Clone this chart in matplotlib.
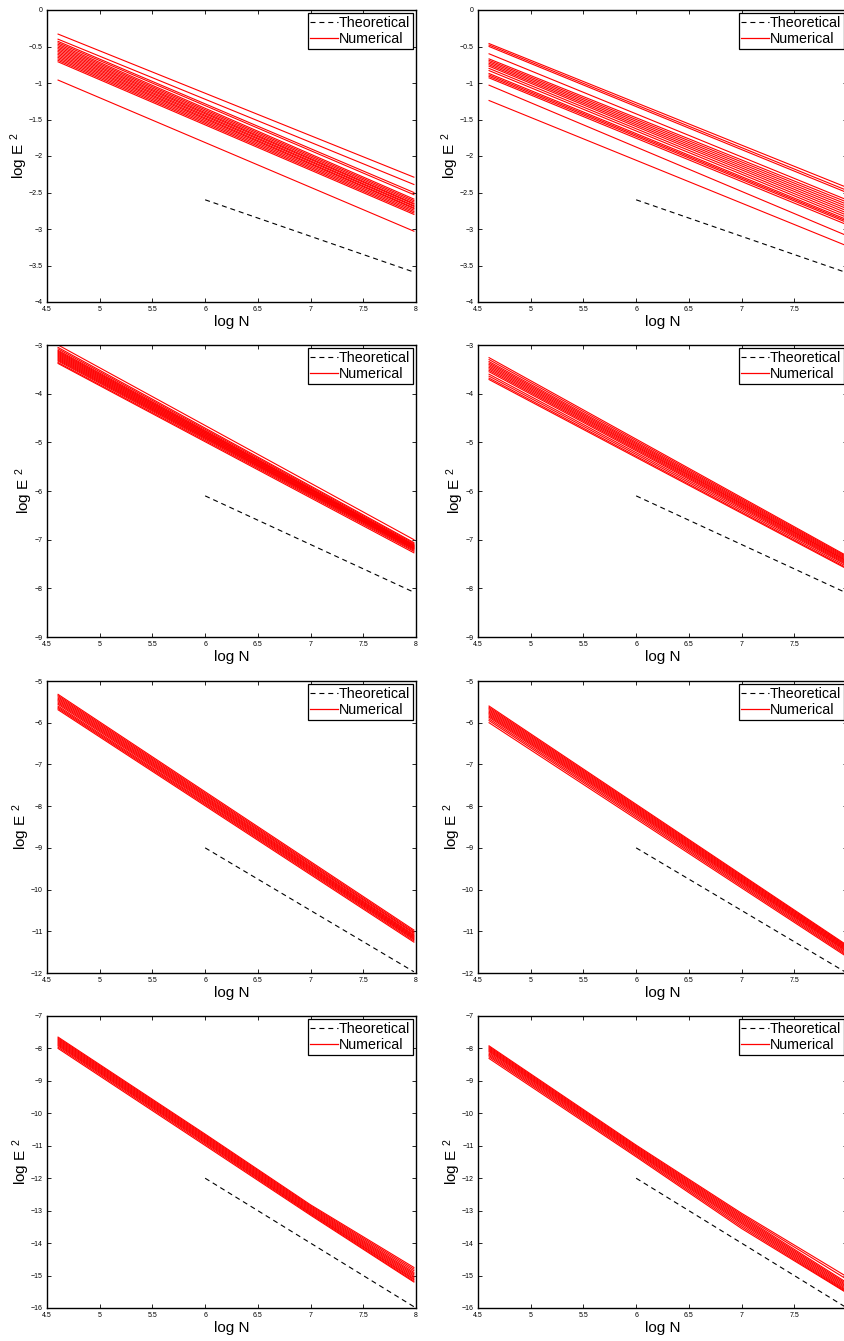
import matplotlib
matplotlib.use('Agg')
import matplotlib.pyplot as plt
from matplotlib.lines import Line2D
from matplotlib.ticker import FuncFormatter

plt.rcParams['font.family'] = ['Liberation Sans', 'DejaVu Sans']
plt.rcParams['mathtext.fontset'] = 'custom'
plt.rcParams['mathtext.rm'] = 'Liberation Sans'
plt.rcParams['mathtext.default'] = 'regular'

# x positions (log N) where the numerical curves were sampled
x_two = [4.605, 7.98]
x_four = [4.605, 6.0, 7.0, 7.98]
theo_x = [6.0, 7.98]

# row 1
p1_start = [-0.33, -0.40, -0.43, -0.45, -0.47, -0.49, -0.51, -0.53, -0.55,
            -0.57, -0.59, -0.61, -0.63, -0.65, -0.67, -0.69, -0.71, -0.96]
p1_end = [-2.29, -2.39, -2.50, -2.53, -2.59, -2.61, -2.63, -2.65, -2.66,
          -2.68, -2.69, -2.71, -2.72, -2.74, -2.76, -2.78, -2.80, -3.03]
p2_start = [-0.46, -0.48, -0.50, -0.60, -0.67, -0.69, -0.71, -0.73, -0.75,
            -0.77, -0.80, -0.83, -0.87, -0.89, -0.91, -0.93, -1.03, -1.24]
p2_end = [-2.42, -2.46, -2.49, -2.59, -2.62, -2.65, -2.68, -2.71, -2.74,
          -2.77, -2.80, -2.83, -2.86, -2.88, -2.90, -2.93, -3.08, -3.22]
theo_1 = [-2.6, -3.59]

# row 2
p3_start = [-3.00, -3.05, -3.08, -3.11, -3.13, -3.15, -3.17, -3.19, -3.21,
            -3.23, -3.25, -3.27, -3.29, -3.31, -3.33, -3.36, -3.38]
p3_end = [-7.00, -7.06, -7.08, -7.10, -7.11, -7.12, -7.13, -7.14, -7.15,
          -7.16, -7.17, -7.18, -7.19, -7.20, -7.22, -7.24, -7.27]
p4_start = [-3.26, -3.30, -3.34, -3.37, -3.40, -3.43, -3.46, -3.49, -3.52,
            -3.55, -3.60, -3.64, -3.68, -3.71]
p4_end = [-7.31, -7.33, -7.35, -7.37, -7.39, -7.41, -7.42, -7.44, -7.46,
          -7.48, -7.50, -7.53, -7.56, -7.58]
theo_2 = [-6.1, -8.08]

# row 3
p5_start = [-5.32, -5.35, -5.38, -5.41, -5.44, -5.47, -5.50, -5.53, -5.56,
            -5.60, -5.63, -5.66, -5.69]
p5_end = [-10.97, -11.00, -11.03, -11.05, -11.08, -11.10, -11.12, -11.14,
          -11.16, -11.18, -11.20, -11.23, -11.26]
p6_start = [-5.60, -5.63, -5.66, -5.69, -5.72, -5.75, -5.78, -5.81, -5.84,
            -5.87, -5.91, -5.95, -6.00]
p6_end = [-11.30, -11.32, -11.34, -11.36, -11.38, -11.40, -11.42, -11.44,
          -11.46, -11.49, -11.52, -11.55, -11.58]
theo_3 = [-9.0, -11.97]

# row 4 (slightly bent, read at four x positions)
p7_lines = [
    [-7.65, -10.64, -12.82, -14.75],
    [-7.68, -10.67, -12.85, -14.80],
    [-7.71, -10.70, -12.88, -14.85],
    [-7.74, -10.73, -12.91, -14.90],
    [-7.77, -10.76, -12.94, -14.94],
    [-7.80, -10.79, -12.97, -14.98],
    [-7.83, -10.82, -13.00, -15.02],
    [-7.86, -10.85, -13.03, -15.06],
    [-7.89, -10.88, -13.06, -15.10],
    [-7.92, -10.91, -13.08, -15.13],
    [-7.96, -10.95, -13.11, -15.17],
    [-8.00, -10.99, -13.14, -15.20],
]
p8_lines = [
    [-7.92, -10.98, -13.08, -15.00],
    [-7.95, -11.01, -13.12, -15.08],
    [-7.98, -11.04, -13.16, -15.18],
    [-8.01, -11.07, -13.20, -15.22],
    [-8.04, -11.10, -13.24, -15.26],
    [-8.07, -11.13, -13.28, -15.30],
    [-8.10, -11.16, -13.32, -15.34],
    [-8.14, -11.19, -13.36, -15.38],
    [-8.18, -11.22, -13.40, -15.42],
    [-8.22, -11.26, -13.45, -15.45],
    [-8.26, -11.30, -13.50, -15.48],
    [-8.31, -11.34, -13.55, -15.50],
]
theo_4 = [-12.0, -15.96]

x_ticks = [4.5, 5, 5.5, 6, 6.5, 7, 7.5, 8]
row_yticks = [
    [-4, -3.5, -3, -2.5, -2, -1.5, -1, -0.5, 0],
    [-9, -8, -7, -6, -5, -4, -3],
    [-12, -11, -10, -9, -8, -7, -6, -5],
    [-16, -15, -14, -13, -12, -11, -10, -9, -8, -7],
]

panels = [
    (x_two, [list(p) for p in zip(p1_start, p1_end)], theo_1),
    (x_two, [list(p) for p in zip(p2_start, p2_end)], theo_1),
    (x_two, [list(p) for p in zip(p3_start, p3_end)], theo_2),
    (x_two, [list(p) for p in zip(p4_start, p4_end)], theo_2),
    (x_two, [list(p) for p in zip(p5_start, p5_end)], theo_3),
    (x_two, [list(p) for p in zip(p6_start, p6_end)], theo_3),
    (x_four, p7_lines, theo_4),
    (x_four, p8_lines, theo_4),
]

W, H = 845, 1341
fig = plt.figure(figsize=(W / 100, H / 100), dpi=100)

row_tops = [10, 345, 681, 1016]
col_lefts = [47, 478]
ax_w, ax_h = 369, 292


def fmt(v, pos):
    return ('%g' % v).replace('-', '\u2212')


for i, (xs, lines, theo) in enumerate(panels):
    row, col = divmod(i, 2)
    ax = fig.add_axes([col_lefts[col] / W, 1 - (row_tops[row] + ax_h) / H,
                       ax_w / W, ax_h / H])
    ax.plot(theo_x, theo, color='black', lw=0.8, linestyle=(0, (4.5, 3.5)))
    for ys in lines:
        ax.plot(xs, ys, color='red', lw=0.8)

    yt = row_yticks[row]
    ax.set_xlim(4.5, 8)
    ax.set_ylim(yt[0], yt[-1])
    ax.set_xticks(x_ticks)
    ax.set_yticks(yt)
    ax.xaxis.set_major_formatter(FuncFormatter(fmt))
    ax.yaxis.set_major_formatter(FuncFormatter(fmt))
    ax.tick_params(direction='in', top=True, right=True, length=3, width=0.6,
                   labelsize=5, pad=3)
    for sp in ax.spines.values():
        sp.set_linewidth(1.0)

    ax.set_xlabel('log N', fontsize=11, labelpad=1)
    ax.set_ylabel('log E $^{2}$', fontsize=11, labelpad=-0.5)

    handles = [Line2D([], [], color='black', lw=0.8, linestyle=(0, (4.5, 3.5))),
               Line2D([], [], color='red', lw=0.9)]
    leg = ax.legend(handles, ['Theoretical', 'Numerical'], loc='upper right',
                    fontsize=10.3, fancybox=False, edgecolor='black',
                    borderaxespad=0.2, borderpad=0.2, labelspacing=0.15,
                    handlelength=1.9, handletextpad=0.1, framealpha=1)
    leg.get_frame().set_linewidth(0.9)

fig.savefig('out.png', dpi=100)
